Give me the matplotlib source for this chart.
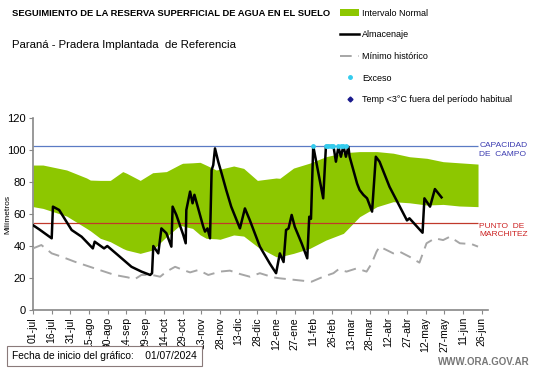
import numpy as np
import matplotlib
matplotlib.use("Agg")
import matplotlib.pyplot as plt
from matplotlib.lines import Line2D
from matplotlib.patches import Patch

plt.rcParams['font.family'] = ['Liberation Sans', 'DejaVu Sans']

# dias desde 01/07/2024
band_days = [0, 8, 27, 43, 46, 54, 62, 72, 75, 86, 96, 107, 118, 120, 128, 134, 139, 147, 150,
             161, 169, 180, 195, 198, 209, 222, 235, 249, 262, 276, 289, 302, 316, 329, 342, 357]
band_upper = [90.6, 90.6, 87.5, 82.5, 81.2, 81.0, 81.0, 86.5, 85.5, 81.0, 85.8, 86.5, 91.0, 91.7, 92.0,
              92.3, 90.5, 87.5, 88.0, 90.0, 88.5, 81.0, 82.5, 82.3, 88.7, 91.8, 95.8, 98.3, 99.0,
              99.0, 98.0, 95.8, 94.8, 92.7, 92.0, 91.2]
band_lower = [64.6, 63.5, 58.7, 51.0, 49.5, 44.8, 42.7, 38.5, 37.5, 35.4, 37.5, 45.8, 53.0, 52.5, 51.0,
              47.0, 44.8, 44.5, 44.2, 46.9, 46.2, 39.6, 33.3, 33.3, 35.4, 38.5, 43.7, 47.9, 58.3,
              64.6, 67.7, 67.0, 65.6, 66.0, 65.0, 64.6]

alm_days = [0, 5, 15, 16, 21, 31, 39, 48, 49.5, 57, 59.6, 68, 79, 87, 94, 95.5, 96.5, 100.5, 103,
            107, 111, 112, 115, 120.5, 122.5, 123, 126, 128, 129.5, 136.6, 138, 140, 142, 143.3,
            144.6, 146, 148.6, 151.3, 155, 159, 166, 170, 174, 182, 190, 195, 198, 201, 203, 205,
            207.5, 210, 215.5, 220, 221.6, 223, 224.8, 232.8, 235, 241, 243, 245, 247, 249, 251,
            253, 254, 260, 262, 265, 268, 272, 275, 278, 286, 300, 302, 312.5, 314, 318.5, 322.4,
            327.7]
alm_vals = [53.0, 50.4, 44.8, 64.6, 62.5, 50.0, 45.8, 38.5, 42.7, 38.5, 40.0, 34.4, 27.0, 24.0, 21.9,
            23.0, 40.0, 35.4, 51.0, 48.0, 39.6, 64.6, 59.4, 47.0, 41.7, 62.5, 74.0, 66.7, 72.0,
            52.0, 49.0, 51.0, 44.8, 87.5, 90.6, 101.0, 92.7, 85.4, 75.0, 64.6, 51.0, 63.5, 56.0,
            39.6, 29.0, 23.0, 35.4, 30.0, 50.0, 51.0, 59.4, 52.0, 41.7, 32.3, 58.3, 57.0, 102.5,
            69.8, 102.5, 102.5, 92.7, 102.0, 95.8, 102.5, 95.8, 102.0, 95.8, 79.0, 75.0, 72.0,
            69.8, 61.5, 95.8, 92.7, 77.0, 56.0, 57.3, 48.3, 69.8, 64.6, 75.6, 70.4]

min_days = [0, 6.7, 15, 23, 33.4, 49.5, 65.5, 76, 81.5, 87, 95, 102, 107, 114, 120.5, 126, 132.6,
            140.6, 150, 158, 166, 174, 182, 192.7, 198, 211.5, 223.5, 232.8, 241, 245, 251.5,
            259.6, 267.6, 271.6, 275.6, 278, 283.6, 289, 294, 302, 310, 315.7, 322.4, 329, 334.4,
            342.4, 351.8, 357]
min_vals = [38.5, 40.6, 35.4, 33.3, 30.2, 26.0, 21.9, 20.4, 19.2, 21.9, 22.0, 20.8, 24.0, 27.0, 25.0,
            23.5, 25.0, 21.9, 24.0, 24.6, 22.5, 20.8, 23.0, 20.4, 19.8, 18.7, 17.7, 20.8, 23.0,
            25.4, 24.0, 26.0, 24.0, 29.0, 36.5, 39.6, 37.5, 35.4, 36.5, 33.3, 29.6, 41.7, 44.8,
            43.7, 45.8, 41.7, 41.2, 39.6]

exceso_days = [225, 235, 237, 239, 241, 245, 247, 249, 251]
exceso_vals = [102.5] * len(exceso_days)

capacidad_campo = 102.5
punto_marchitez = 54.2

tick_days = list(range(0, 361, 15))
tick_labels = ['01-jul', '16-jul', '31-jul', '15-ago', '30-ago', '14-sep', '29-sep', '14-oct',
               '29-oct', '13-nov', '28-nov', '13-dic', '28-dic', '12-ene', '27-ene', '11-feb',
               '26-feb', '13-mar', '28-mar', '12-abr', '27-abr', '12-may', '27-may', '11-jun',
               '26-jun']

green = '#8dc700'

fig = plt.figure(figsize=(5.41, 3.68), dpi=100)
ax = fig.add_axes([33 / 541, 1 - 310 / 368, (488 - 33) / 541, (310 - 118) / 368])

ax.fill_between(band_days, band_lower, band_upper, color=green, lw=0, zorder=1)
ax.hlines(capacidad_campo, 0, 357, color='#5b7bc4', lw=0.9, zorder=2)
ax.hlines(punto_marchitez, 0, 357, color='#c0392b', lw=0.9, zorder=2)
ax.plot(min_days, min_vals, color='#a6a6a6', lw=1.4, dashes=(6, 3.5), zorder=3)
ax.plot(alm_days, alm_vals, color='black', lw=1.8, zorder=4)
ax.scatter(exceso_days, exceso_vals, s=6, color='#33ccee', zorder=5)

ax.set_xlim(0, 365)
ax.set_ylim(0, 120)
ax.set_yticks(range(0, 121, 20))
ax.set_xticks(tick_days)
ax.set_xticklabels(tick_labels, rotation=90, fontsize=7.5)
ax.tick_params(axis='y', labelsize=8, length=3, color='#888888', pad=2)
ax.tick_params(axis='x', length=3, color='#888888', pad=2)
for s in ['top', 'right']:
    ax.spines[s].set_visible(False)
for s in ['left', 'bottom']:
    ax.spines[s].set_color('#888888')
    ax.spines[s].set_linewidth(1.2)
ax.set_ylabel('Milímetros', fontsize=6)
ax.yaxis.set_label_coords(-22 / 455, 0.5)

ax.text(358, 100, 'CAPACIDAD\nDE  CAMPO', color='#3b3bb0', fontsize=6,
        va='center', ha='left', linespacing=1.25)
ax.text(358, 49.7, 'PUNTO  DE\nMARCHITEZ', color='#cc2222', fontsize=6,
        va='center', ha='left', linespacing=1.25)

fig.text(12 / 541, 1 - 14 / 368, 'SEGUIMIENTO DE LA RESERVA SUPERFICIAL DE AGUA EN EL SUELO',
         fontsize=6.75, fontweight='bold', va='center')
fig.text(12 / 541, 1 - 45 / 368, 'Paraná - Pradera Implantada  de Referencia',
         fontsize=8.2, va='center')

handles = [
    Patch(facecolor=green, edgecolor='none'),
    Line2D([], [], color='black', lw=1.8),
    Line2D([], [], color='#a6a6a6', lw=1.4, dashes=(6, 3.5)),
    Line2D([], [], color='#33ccee', marker='o', ms=2.5, ls='none'),
    Line2D([], [], color='#1a1a8c', marker='D', ms=2.5, ls='none'),
]
labels = ['Intervalo Normal', 'Almacenaje', 'Mínimo histórico', 'Exceso',
          'Temp <3°C fuera del período habitual']
fig.legend(handles, labels, loc='upper left', bbox_to_anchor=(336 / 541, 1 - 5 / 368),
           frameon=False, fontsize=6.5, labelspacing=1.4, handlelength=2.2,
           handletextpad=0.3, borderaxespad=0)

fig.text(12 / 541, 1 - 356 / 368, 'Fecha de inicio del gráfico:    01/07/2024', fontsize=7.4,
         va='center', bbox=dict(boxstyle='square,pad=0.5', fc='white', ec='#8a7a7a', lw=0.8))
fig.text(530 / 541, 1 - 362 / 368, 'WWW.ORA.GOV.AR', fontsize=7, color='#777777',
         fontweight='bold', ha='right', va='center')

fig.savefig('out.png', dpi=100)
